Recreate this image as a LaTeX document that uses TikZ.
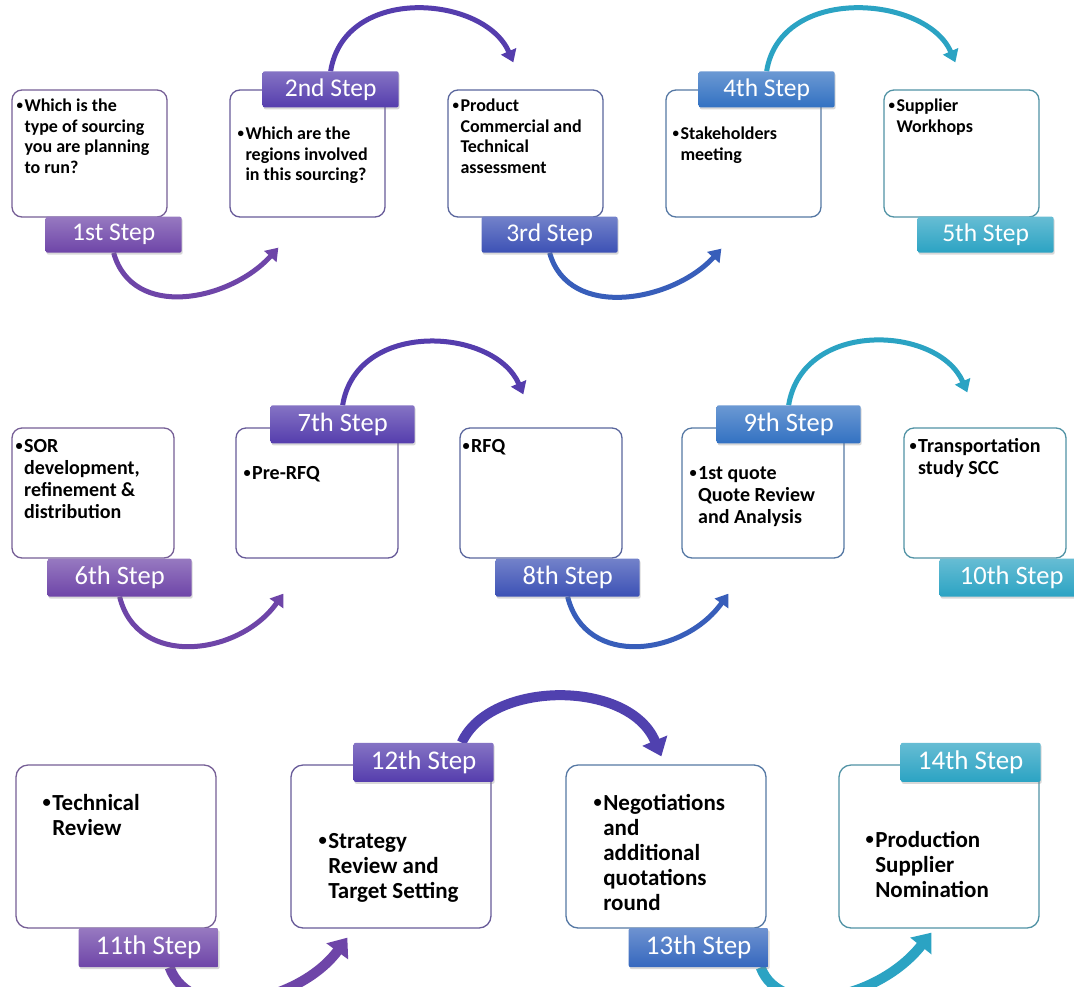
\documentclass[tikz,border=0pt]{standalone}
\usepackage{fontspec}
\setmainfont{Carlito}
\usetikzlibrary{arrows.meta,calc,shadows}
\definecolor{vio}{HTML}{6E45A8}
\definecolor{ind}{HTML}{553DAD}
\definecolor{blu}{HTML}{3C51B5}
\definecolor{azu}{HTML}{3271C2}
\definecolor{tea}{HTML}{2BA3C3}
\pgfdeclarelayer{boxes}
\pgfdeclarelayer{arrows}
\pgfsetlayers{boxes,arrows,main}
\newcommand{\bul}[1]{\raisebox{.12em}{\scalebox{.72}{\textbullet}}\kern1.5pt\begin{tabular}[t]{@{}l@{}}#1\end{tabular}}
\tikzset{
  stepbox/.style={draw=#1!55!gray,line width=1.3pt,rounded corners=10pt,fill=white},
  boxA/.style={minimum width=155pt,minimum height=127pt},
  boxB/.style={minimum width=162pt,minimum height=130pt},
  boxC/.style={minimum width=200pt,minimum height=163pt,rounded corners=12pt},
  steptag/.style={rounded corners=2pt,text=white,top color=#1!72!white,bottom color=#1,
                  drop shadow={opacity=.3,shadow xshift=1pt,shadow yshift=-2pt}},
  tagA/.style={steptag=#1,minimum width=136pt,minimum height=36pt,font=\fontsize{25.5}{25.5}\selectfont},
  tagB/.style={steptag=#1,minimum width=144pt,minimum height=38pt,font=\fontsize{26.5}{26.5}\selectfont},
  tagC/.style={steptag=#1,minimum width=140pt,minimum height=39pt,font=\fontsize{27}{27}\selectfont},
  txtA/.style={anchor=north west,inner sep=0pt,font=\fontsize{18}{20.5}\selectfont\bfseries},
  txtB/.style={anchor=north west,inner sep=0pt,font=\fontsize{20}{22}\selectfont\bfseries},
  txtC/.style={anchor=north west,inner sep=0pt,font=\fontsize{23}{25}\selectfont\bfseries},
  arr/.style={draw=#1,line width=5pt,-{Triangle[width=16pt,length=12pt]}},
  arrC/.style={arr=#1,line width=10pt,-{Triangle[width=26pt,length=17pt]}},
  every picture/.style={line cap=round,line join=round}}

\begin{document}
\begin{tikzpicture}[x=1pt,y=-1pt]
  \useasboundingbox (0,0) rectangle (1074,986);
  \begin{pgfonlayer}{boxes}
  \fill[white] (0,0) rectangle (1074,986);
  % row 1
  \node[stepbox=vio,boxA] (b1) at (89.5,153.5){};  \node[stepbox=ind,boxA] (b2) at (307.5,153.5){};
  \node[stepbox=blu,boxA] (b3) at (525.5,153.5){}; \node[stepbox=azu,boxA] (b4) at (743.5,153.5){};
  \node[stepbox=tea,boxA] (b5) at (961.5,153.5){};
  % row 2
  \node[stepbox=vio,boxB] (b6) at (93,493){};   \node[stepbox=ind,boxB] (b7) at (317,493){};
  \node[stepbox=blu,boxB] (b8) at (541,493){};  \node[stepbox=azu,boxB] (b9) at (763,493){};
  \node[stepbox=tea,boxB] (b10) at (985,493){};
  % row 3
  \node[stepbox=vio,boxC] (b11) at (116,846.5){}; \node[stepbox=ind,boxC] (b12) at (391,846.5){};
  \node[stepbox=azu,boxC] (b13) at (666,846.5){}; \node[stepbox=tea,boxC] (b14) at (939,846.5){};
  \end{pgfonlayer}
  % texts
  \node[txtA] (t1) at ($(b1.north west)+(5,8)$){\bul{Which is the\\type of sourcing\\you are planning\\to run?}};
  \node[txtA] (t2) at ($(b2.north west)+(8,36)$){\bul{Which are the\\regions involved\\in this sourcing?}};
  \node[txtA] (t3) at ($(b3.north west)+(5,8)$){\bul{Product\\Commercial and\\Technical\\assessment}};
  \node[txtA] (t4) at ($(b4.north west)+(7,36)$){\bul{Stakeholders\\meeting}};
  \node[txtA] (t5) at ($(b5.north west)+(5,8)$){\bul{Supplier\\Workhops}};
  \node[txtB] (t6) at ($(b6.north west)+(4,9.5)$){\bul{SOR\\development,\\refinement \&\\distribution}};
  \node[txtB] (t7) at ($(b7.north west)+(8,36.5)$){\bul{Pre-RFQ}};
  \node[txtB] (t8) at ($(b8.north west)+(3,9.5)$){\bul{RFQ}};
  \node[txtB] (t9) at ($(b9.north west)+(8,36.5)$){\bul{1st quote\\Quote Review\\and Analysis}};
  \node[txtB] (t10) at ($(b10.north west)+(6,9.5)$){\bul{Transportation\\study SCC}};
  \node[txtC] (t11) at ($(b11.north west)+(27,28)$){\bul{Technical\\Review}};
  \node[txtC] (t12) at ($(b12.north west)+(28,66)$){\bul{Strategy\\Review and\\Target Setting}};
  \node[txtC] (t13) at ($(b13.north west)+(28,28)$){\bul{Negotiations\\and\\additional\\quotations\\round}};
  \node[txtC] (t14) at ($(b14.north west)+(27,65)$){\bul{Production\\Supplier\\Nomination}};
  % step tags
  \node[tagA=vio] (l1) at ($(b1.south east)+(-54,17)$){1st Step};
  \node[tagA=ind] (l2) at ($(b2.north east)+(-55,0)$){2nd Step};
  \node[tagA=blu] (l3) at ($(b3.south east)+(-54,17)$){3rd Step};
  \node[tagA=azu] (l4) at ($(b4.north east)+(-55,0)$){4th Step};
  \node[tagA=tea] (l5) at ($(b5.south east)+(-54,17)$){5th Step};
  \node[tagB=vio] (l6) at ($(b6.south east)+(-55,19)$){6th Step};
  \node[tagB=ind] (l7) at ($(b7.north east)+(-56,-3)$){7th Step};
  \node[tagB=blu] (l8) at ($(b8.south east)+(-55,19)$){8th Step};
  \node[tagB=azu] (l9) at ($(b9.north east)+(-56,-3)$){9th Step};
  \node[tagB=tea] (l10) at ($(b10.south east)+(-55,19)$){10th Step};
  \node[tagC=vio] (l11) at ($(b11.south east)+(-68,19)$){11th Step};
  \node[tagC=ind] (l12) at ($(b12.north east)+(-68,-2)$){12th Step};
  \node[tagC=azu!70!blu] (l13) at ($(b13.south east)+(-68,19)$){13th Step};
  \node[tagC=tea] (l14) at ($(b14.north east)+(-69,-2)$){14th Step};
  % arrow ends
  \coordinate (e12) at ($(b2.south west)+(49,30)$);   \coordinate (e23) at ($(b3.north west)+(66,-27)$);
  \coordinate (e34) at ($(b4.south west)+(56,31)$);   \coordinate (e45) at ($(b5.north west)+(72,-27)$);
  \coordinate (e67) at ($(b7.south west)+(48,35)$);   \coordinate (e78) at ($(b8.north west)+(64,-33)$);
  \coordinate (e89) at ($(b9.south west)+(47,35)$);   \coordinate (e910) at ($(b10.north west)+(64,-35)$);
  \coordinate (e1112) at ($(b12.south west)+(57,9)$); \coordinate (e1213) at ($(b13.north west)+(96,-8)$);
  \coordinate (e1314) at ($(b14.south west)+(93,4)$);
  \begin{pgfonlayer}{arrows}
  \draw[arr=vio] (l1.south) .. controls +(19,68) and +(-48,53) .. (e12);
  \draw[arr=ind] (l2.north) .. controls +(14,-87) and +(-29,-67) .. (e23);
  \draw[arr=blu!60!azu] (l3.south) .. controls +(19,68) and +(-48,53) .. (e34);
  \draw[arr=tea] (l4.north) .. controls +(14,-87) and +(-29,-67) .. (e45);
  \draw[arr=vio] (l6.south) .. controls +(18,72) and +(-44,62) .. (e67);
  \draw[arr=ind] (l7.north) .. controls +(14,-86) and +(-29,-67) .. (e78);
  \draw[arr=blu!60!azu] (l8.south) .. controls +(18,72) and +(-44,62) .. (e89);
  \draw[arr=tea] (l9.north) .. controls +(14,-86) and +(-29,-67) .. (e910);
  \draw[arrC=vio] ([xshift=21pt]l11.south) .. controls +(21,58) and +(-48,65) .. (e1112);
  \draw[arrC=ind!80!blu] ([xshift=38pt]l12.north) .. controls +(29,-63) and +(-32,-77) .. (e1213);
  \draw[arrC=tea] ([xshift=62pt]l13.south) .. controls +(20,53) and +(-52,66) .. (e1314);
  \end{pgfonlayer}
\end{tikzpicture}
\end{document}
